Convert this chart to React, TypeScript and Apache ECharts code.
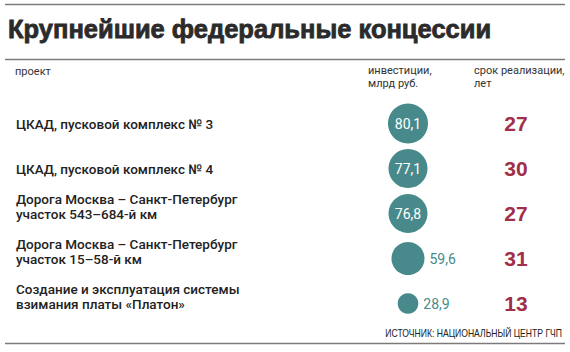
import React, { useEffect, useRef } from "react";
import * as echarts from "echarts";

const titleText = "Крупнейшие федеральные концессии";
const headerProject = "проект";
const headerInvest = "инвестиции,\nмлрд руб.";
const headerYears = "срок реализации,\nлет";
const sourceText = "ИСТОЧНИК: НАЦИОНАЛЬНЫЙ ЦЕНТР ГЧП";

const columns = ["инвестиции", "срок"];
const projects = [
  "ЦКАД, пусковой комплекс № 3",
  "ЦКАД, пусковой комплекс № 4",
  "Дорога Москва – Санкт-Петербург\nучасток 543–684-й км",
  "Дорога Москва – Санкт-Петербург\nучасток 15–58-й км",
  "Создание и эксплуатация системы\nвзимания платы «Платон»",
];
const investments = [80.1, 77.1, 76.8, 59.6, 28.9];
const years = [27, 30, 27, 31, 13];

const TEAL = "#488a8b";
const RED = "#a02f47";
const TEXT = "#222222";
const LABEL_FONT = "Roboto, 'Noto Sans', sans-serif";

const diam = (v: number) => 40 * Math.pow(v / 80.1, 0.65);
const fmt = (v: number) => v.toFixed(1).replace(".", ",");

export default function App() {
  const ref = useRef<HTMLDivElement>(null);
  useEffect(() => {
    if (!ref.current) return;
    const chart = echarts.init(ref.current, null, { renderer: "svg" });
    const gridLeft = 354;
    const investData = investments.map((v, i) => {
      const inside = diam(v) >= 36;
      return {
        value: [columns[0], projects[i], v],
        label: inside
          ? { position: "inside", color: "#ffffff" }
          : { position: "right", color: TEAL, distance: 5 },
      };
    });
    const yearData = years.map((v, i) => ({ value: [columns[1], projects[i], v] }));
    chart.setOption({
      animation: false,
      grid: { left: gridLeft, top: 101, width: 222, height: 225, containLabel: false },
      xAxis: {
        type: "category",
        data: columns,
        show: false,
      },
      yAxis: {
        type: "category",
        data: projects,
        inverse: true,
        axisLine: { show: false },
        axisTick: { show: false },
        splitLine: { show: false },
        axisLabel: {
          align: "left",
          margin: gridLeft - 16,
          fontFamily: LABEL_FONT,
          fontWeight: 500,
          fontSize: 13.5,
          lineHeight: 15,
          color: TEXT,
          formatter: (s: string) => (s.indexOf("\n") >= 0 ? s + "\n" : s),
        },
      },
      series: [
        {
          type: "scatter",
          data: investData,
          symbol: "circle",
          symbolSize: (val: any) => diam(val[2]),
          itemStyle: { color: TEAL, opacity: 1 },
          label: {
            show: true,
            fontFamily: LABEL_FONT,
            fontSize: 14,
            formatter: (p: any) => fmt(p.value[2]),
          },
        },
        {
          type: "scatter",
          data: yearData,
          symbolSize: 1,
          itemStyle: { color: "rgba(255,255,255,0)", opacity: 1 },
          label: {
            show: true,
            position: "inside",
            color: RED,
            opacity: 1,
            fontFamily: "'Liberation Sans', Arial, sans-serif",
            fontWeight: "bold",
            fontSize: 21,
            formatter: (p: any) => String(p.value[2]),
          },
        },
      ],
      graphic: [
        { type: "line", shape: { x1: 5, y1: 4.5, x2: 565, y2: 4.5 }, style: { stroke: "#7b7b7b", lineWidth: 1.5 } },
        { type: "line", shape: { x1: 5, y1: 59.5, x2: 565, y2: 59.5 }, style: { stroke: "#7b7b7b", lineWidth: 1.5 } },
        { type: "line", shape: { x1: 5, y1: 343.5, x2: 565, y2: 343.5 }, style: { stroke: "#7b7b7b", lineWidth: 1.5 } },
        {
          type: "text",
          x: 8,
          y: 29,
          style: {
            text: titleText,
            fill: "#2b2b2b",
            stroke: "#2b2b2b",
            lineWidth: 0.8,
            font: "bold 25.5px 'Liberation Sans', Arial, sans-serif",
            verticalAlign: "middle",
          },
        },
        {
          type: "text",
          x: 15,
          y: 71,
          style: { text: headerProject, fill: "#333", font: "11px " + LABEL_FONT, verticalAlign: "middle" },
        },
        {
          type: "text",
          x: 368,
          y: 64,
          style: { text: headerInvest, fill: "#333", font: "11px " + LABEL_FONT, lineHeight: 13, verticalAlign: "top" },
        },
        {
          type: "text",
          x: 474,
          y: 64,
          style: { text: headerYears, fill: "#333", font: "11px " + LABEL_FONT, lineHeight: 13, verticalAlign: "top" },
        },
        {
          type: "text",
          x: 562,
          y: 333,
          scaleX: 0.82,
          style: {
            text: sourceText,
            fill: "#222",
            font: "10.5px 'Liberation Sans', Arial, sans-serif",
            align: "right",
            verticalAlign: "middle",
          },
        },
      ],
    });
    return () => chart.dispose();
  }, []);
  return (
    <div
      ref={ref}
      style={{ position: "fixed", left: 0, top: 0, width: 570, height: 352, background: "#fff" }}
    />
  );
}
